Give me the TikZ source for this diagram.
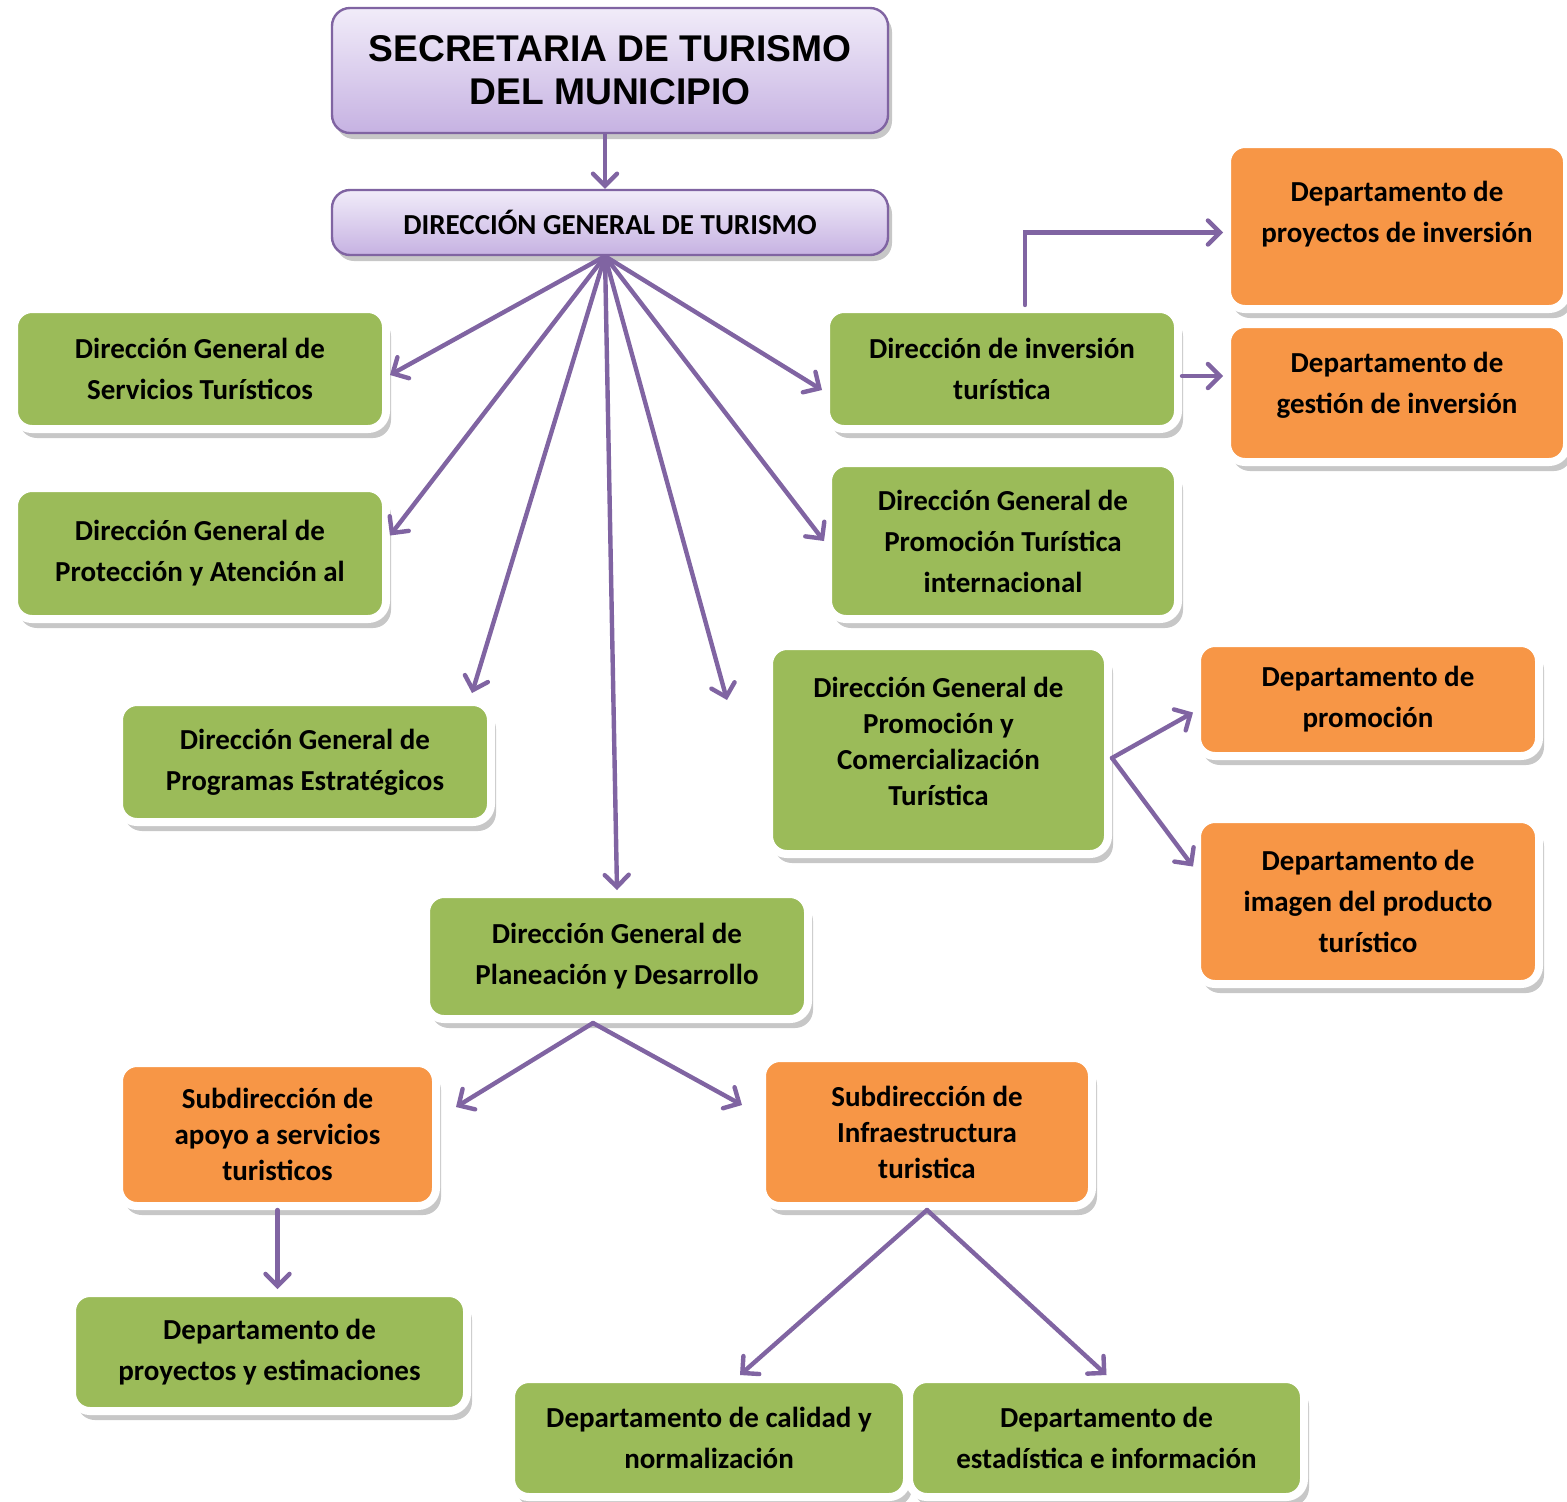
\documentclass[tikz,border=0pt]{standalone}
\usepackage{fontspec}
\setmainfont{Carlito}
\newfontfamily\titlefont{Liberation Sans}
\usetikzlibrary{arrows.meta,shadows}
\definecolor{boxgreen}{HTML}{9BBB59}
\definecolor{boxorange}{HTML}{F79646}
\definecolor{linkpurple}{HTML}{8064A2}
\definecolor{lavtop}{HTML}{F1ECF9}
\definecolor{lavbot}{HTML}{C6B2E2}

\begin{document}
\begin{tikzpicture}[x=0.5pt, y=-0.5pt,
  unit/.style={rounded corners=9pt, draw=white, line width=4pt, align=center, inner sep=0pt,
    font=\bfseries\fontsize{14.5}{20.5}\selectfont,
    drop shadow={shadow xshift=2.5pt, shadow yshift=-4.5pt, fill=black, opacity=0.22}},
  greenbox/.style={unit, fill=boxgreen},
  orangebox/.style={unit, fill=boxorange},
  tight/.style={font=\bfseries\fontsize{14.5}{18}\selectfont},
  head/.style={rounded corners=9pt, draw=linkpurple, line width=1.2pt, top color=lavtop, bottom color=lavbot,
    align=center, inner sep=0pt, font=\bfseries\fontsize{14.5}{20.5}\selectfont,
    drop shadow={shadow xshift=2pt, shadow yshift=-3pt, fill=black, opacity=0.22}},
  link/.style={draw=linkpurple, line width=2.2pt, line cap=round,
    -{Straight Barb[length=6pt,width=12pt,line cap=round]}}]
  \useasboundingbox (0,0) rectangle (1567,1501);

  % top of the chart
  \node[head, minimum width=278pt, minimum height=62.5pt,
    font=\titlefont\bfseries\fontsize{18.6}{21.5}\selectfont] (secretaria) at (610,70.5)
    {SECRETARIA DE TURISMO\\DEL MUNICIPIO};
  \node[head, minimum width=278pt, minimum height=32.5pt] (direccion) at (610,222.5)
    {DIRECCIÓN GENERAL DE TURISMO};

  % direcciones
  \node[greenbox, minimum width=186pt, minimum height=60pt] (servicios) at (200,369)
    {Dirección General de\\Servicios Turísticos};
  \node[greenbox, minimum width=186pt, minimum height=65.5pt] (proteccion) at (200,553.5)
    {Dirección General de\\Protección y Atención al};
  \node[greenbox, minimum width=186pt, minimum height=60pt] (programas) at (305,762)
    {Dirección General de\\Programas Estratégicos};
  \node[greenbox, minimum width=191pt, minimum height=62.5pt] (planeacion) at (617,956.5)
    {Dirección General de\\Planeación y Desarrollo};
  \node[greenbox, minimum width=176pt, minimum height=60pt] (inversion) at (1002,369)
    {Dirección de inversión\\turística};
  \node[greenbox, minimum width=175pt, minimum height=78pt] (promoInt) at (1003,541)
    {Dirección General de\\Promoción Turística\\internacional};
  \node[greenbox, tight, minimum width=169.5pt, minimum height=104pt] (promoCom) at (938.5,750)
    {Dirección General de\\Promoción y\\Comercialización\\Turística\\[-9pt]~};

  % departamentos y subdirecciones
  \node[orangebox, minimum width=170pt, minimum height=82.5pt] (proyInv) at (1397,226.5)
    {Departamento de\\proyectos de inversión\\[-5.5pt]~};
  \node[orangebox, minimum width=170pt, minimum height=69pt] (gestInv) at (1397,393)
    {Departamento de\\gestión de inversión\\[-10pt]~};
  \node[orangebox, minimum width=171pt, minimum height=56.5pt] (promocion) at (1368,699.5)
    {Departamento de\\promoción};
  \node[orangebox, minimum width=171pt, minimum height=82.5pt] (imagen) at (1368,901.5)
    {Departamento de\\imagen del producto\\turístico};
  \node[orangebox, tight, minimum width=158.5pt, minimum height=71.5pt] (apoyo) at (277.5,1134.5)
    {Subdirección de\\apoyo a servicios\\turisticos};
  \node[orangebox, tight, minimum width=165pt, minimum height=74pt] (infra) at (927,1132)
    {Subdirección de\\Infraestructura\\turistica};
  \node[greenbox, minimum width=197.5pt, minimum height=59pt] (proyEst) at (269.5,1352)
    {Departamento de\\proyectos y estimaciones};
  \node[greenbox, minimum width=198pt, minimum height=59pt] (calidad) at (709,1438)
    {Departamento de calidad y\\normalización};
  \node[greenbox, minimum width=197.5pt, minimum height=59pt] (estadistica) at (1106.5,1438)
    {Departamento de\\estadística e información};

  % connectors
  \coordinate (hub) at ([xshift=-2.5pt]direccion.south);
  \coordinate (loose) at (727,700);
  \draw[link] ([xshift=-2.5pt]secretaria.south) -- ([xshift=-2.5pt]direccion.north);
  \draw[link] (hub) -- ([yshift=-3pt]servicios.east);
  \draw[link] (hub) -- ([yshift=9pt]proteccion.east);
  \draw[link] (hub) -- ([xshift=-11.5pt,yshift=2.5pt]programas.north east);
  \draw[link] (hub) -- (planeacion.north);
  \draw[link] (hub) -- (loose);
  \draw[link] (hub) -- (promoInt.west);
  \draw[link] (hub) -- ([yshift=-10.5pt]inversion.west);
  \draw[link] ([xshift=11.5pt]inversion.north) |- ([yshift=-3pt]proyInv.west);
  \draw[link] ([yshift=-3.5pt]inversion.east) -- ([yshift=-3.5pt]inversion.east -| gestInv.west);
  \draw[link] ([yshift=-4pt]promoCom.east) -- ([yshift=-6.5pt]promocion.west);
  \draw[link] ([yshift=-4pt]promoCom.east) -- ([yshift=17.5pt]imagen.west);
  \draw[link] ([xshift=-12pt]planeacion.south) -- ([xshift=8pt,yshift=13.75pt]apoyo.east);
  \draw[link] ([xshift=-12pt]planeacion.south) -- ([xshift=-8pt,yshift=13.5pt]infra.west);
  \draw[link] (apoyo.south) -- (apoyo.south |- proyEst.north);
  \draw[link] (infra.south) -- ([xshift=15.5pt]calidad.north);
  \draw[link] (infra.south) -- (estadistica.north);
\end{tikzpicture}
\end{document}
